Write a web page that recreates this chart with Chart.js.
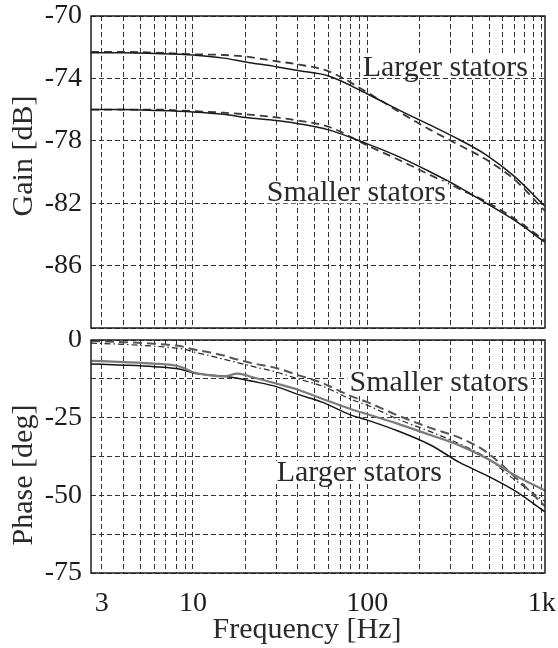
<!DOCTYPE html>
<html>
<head>
<meta charset="utf-8">
<script src="https://cdn.jsdelivr.net/npm/chart.js@4"></script>
<style>
  body { margin: 0; background: #fff; }
  #wrap { position: relative; width: 558px; height: 648px; }
  canvas { position: absolute; left: 0; }
  #gainChart { top: 0; }
  #phaseChart { top: 330px; }
</style>
</head>
<body>
<div id="wrap">
  <canvas id="gainChart" width="558" height="340" style="width:558px;height:340px"></canvas>
  <canvas id="phaseChart" width="558" height="318" style="width:558px;height:318px"></canvas>
</div>
<script>
// log grid lines for the frequency axis
const freqGrid = [3, 4, 5, 6, 7, 8, 9, 10, 20, 30, 40, 50, 60, 70, 80, 90,
  100, 200, 300, 400, 500, 600, 700, 800, 900, 1000];
const freqLabels = { 3: '3', 10: '10', 100: '100', 1000: '1k' };
const gainLabels = [-70, -74, -78, -82, -86];
const phaseLabels = [0, -25, -50, -75];

// gain curves [dB]
const gainFreq = [2.6, 4, 6, 10, 15, 20, 30, 40, 60, 100, 150, 230, 340, 480, 700, 1045];
const gainLargerSolid = [-72.35, -72.35, -72.4, -72.5, -72.7, -72.95, -73.25, -73.5, -73.85, -75.0, -76.0, -77.0, -77.95, -78.9, -80.3, -82.2];
const gainLargerDashed = [-72.3, -72.3, -72.35, -72.45, -72.5, -72.6, -72.9, -73.1, -73.55, -74.9, -76.1, -77.3, -78.3, -79.2, -80.5, -82.5];
const gainSmallerSolid = [-76.0, -76.0, -76.05, -76.15, -76.3, -76.5, -76.7, -76.9, -77.3, -78.2, -79.0, -80.0, -81.0, -82.0, -83.1, -84.5];
const gainSmallerDashed = [-76.0, -76.0, -76.0, -76.1, -76.2, -76.3, -76.5, -76.7, -77.1, -78.3, -79.2, -80.2, -81.1, -81.9, -83.0, -84.4];

// phase curves [deg]
const phaseFreq = [2.6, 4, 6, 8, 9, 10, 12, 15, 18, 22, 30, 40, 55, 80, 100, 150, 230, 340, 480, 700, 1045];
const phaseSmallerSolid = [-6.7, -7.1, -7.6, -8.3, -9.2, -10.4, -11.2, -11.7, -10.8, -12.0, -14.0, -16.0, -18.9, -22.2, -23.9, -27.0, -30.6, -34.0, -38.0, -43.5, -48.5];
const phaseLargerSolid = [-7.7, -8.1, -8.6, -9.2, -9.8, -10.6, -11.2, -11.7, -12.3, -13.3, -15.0, -17.5, -20.0, -24.1, -25.8, -29.3, -33.8, -39.5, -43.5, -48.5, -55.3];
const phaseDashed = [-0.3, -0.7, -1.2, -1.8, -2.3, -3.0, -3.8, -5.0, -6.3, -7.5, -9.0, -11.3, -13.8, -18.0, -20.0, -24.3, -28.3, -31.5, -36.0, -44.0, -53.5];
const phaseDashDot = [-1.0, -1.4, -2.0, -2.6, -3.0, -3.8, -4.8, -6.2, -7.3, -8.5, -10.3, -12.5, -14.8, -19.0, -21.0, -25.5, -29.5, -33.5, -37.8, -45.0, -52.0];

const serif = '"Liberation Serif", "Times New Roman", serif';
const ink = '#1c1c1c';

function pts(xs, ys) {
  return xs.map((x, i) => ({ x: x, y: ys[i] }));
}

function line(label, xs, ys, color, width, dash) {
  return {
    label: label,
    data: pts(xs, ys),
    borderColor: color,
    borderWidth: width,
    borderDash: dash || [],
    pointRadius: 0,
    cubicInterpolationMode: 'monotone',
    fill: false
  };
}

// no extra room for half tick labels: chart area is set by layout padding only
function noPad(s) {
  s.paddingTop = 0;
  s.paddingBottom = 0;
  s.paddingLeft = 0;
  s.paddingRight = 0;
}

// frame + free text (titles, curve labels)
function decorPlugin(texts, titles) {
  return {
    id: 'decor',
    afterDatasetsDraw(chart) {
      const ctx = chart.ctx;
      const a = chart.chartArea;
      ctx.save();
      ctx.setLineDash([]);
      ctx.strokeStyle = ink;
      ctx.lineWidth = 1.5;
      ctx.strokeRect(a.left, a.top, a.right - a.left, a.bottom - a.top);
      ctx.font = '30px ' + serif;
      ctx.textBaseline = 'middle';
      ctx.textAlign = 'left';
      texts.forEach(t => {
        const x = chart.scales.x.getPixelForValue(t.f);
        const y = chart.scales.y.getPixelForValue(t.v);
        const w = ctx.measureText(t.text).width;
        ctx.fillStyle = '#fff';
        ctx.fillRect(x - 2, y - 11, w + 4, 22);
        ctx.fillStyle = '#2a2a2a';
        ctx.fillText(t.text, x, y + 1);
      });
      titles.forEach(t => {
        ctx.save();
        ctx.translate(t.x, t.y);
        ctx.rotate(t.rot || 0);
        ctx.textAlign = 'center';
        ctx.fillStyle = '#2a2a2a';
        ctx.fillText(t.text, 0, 0);
        ctx.restore();
      });
      ctx.restore();
    }
  };
}

function xAxis(showLabels, axisHeight) {
  return {
    type: 'logarithmic',
    min: 2.6,
    max: 1045,
    afterBuildTicks: s => { s.ticks = freqGrid.map(v => ({ value: v })); },
    afterFit: s => { s.height = axisHeight; noPad(s); },
    grid: { color: '#333', lineWidth: 1, drawTicks: false },
    border: { display: false, dash: [5, 3] },
    ticks: {
      display: showLabels,
      autoSkip: false,
      maxRotation: 0,
      padding: 14,
      color: ink,
      font: { family: serif, size: 28 },
      callback: v => freqLabels[v] || ''
    }
  };
}

function yAxis(min, max, step, labels) {
  return {
    min: min,
    max: max,
    afterFit: s => { s.width = 91; noPad(s); },
    grid: { color: '#333', lineWidth: 1, drawTicks: false },
    border: { display: false, dash: [5, 3] },
    ticks: {
      stepSize: step,
      padding: 9,
      color: ink,
      font: { family: serif, size: 28 },
      callback: v => labels.includes(v) ? String(v) : ''
    }
  };
}

new Chart(document.getElementById('gainChart'), {
  type: 'line',
  data: {
    datasets: [
      line('Larger stators (solid)', gainFreq, gainLargerSolid, '#1a1a1a', 1.5),
      line('Larger stators (dashed)', gainFreq, gainLargerDashed, '#3a3a3a', 1.8, [8, 5]),
      line('Smaller stators (solid)', gainFreq, gainSmallerSolid, '#1a1a1a', 1.5),
      line('Smaller stators (dashed)', gainFreq, gainSmallerDashed, '#3a3a3a', 1.8, [8, 5])
    ]
  },
  options: {
    responsive: false,
    animation: false,
    layout: { padding: { left: 0, right: 13, top: 16, bottom: 0 } },
    plugins: { legend: { display: false }, tooltip: { enabled: false } },
    scales: {
      x: xAxis(false, 12),
      y: yAxis(-90, -70, 2, gainLabels)
    }
  },
  plugins: [decorPlugin(
    [
      { text: 'Larger stators', f: 94, v: -73.25 },
      { text: 'Smaller stators', f: 26.5, v: -81.3 }
    ],
    [{ text: 'Gain [dB]', x: 24, y: 156, rot: -Math.PI / 2 }]
  )]
});

new Chart(document.getElementById('phaseChart'), {
  type: 'line',
  data: {
    datasets: [
      line('Smaller stators (solid)', phaseFreq, phaseSmallerSolid, '#7a7a7a', 2.2),
      line('Larger stators (solid)', phaseFreq, phaseLargerSolid, '#151515', 1.5),
      line('Dashed', phaseFreq, phaseDashed, '#555', 2.0, [9, 5]),
      line('Dash-dot', phaseFreq, phaseDashDot, '#2a2a2a', 1.2, [6, 3, 1.5, 3])
    ]
  },
  options: {
    responsive: false,
    animation: false,
    layout: { padding: { left: 0, right: 13, top: 10, bottom: 0 } },
    plugins: { legend: { display: false }, tooltip: { enabled: false } },
    scales: {
      x: xAxis(true, 75),
      y: yAxis(-75, 0, 12.5, phaseLabels)
    }
  },
  plugins: [decorPlugin(
    [
      { text: 'Smaller stators', f: 79, v: -13.5 },
      { text: 'Larger stators', f: 30.2, v: -42.5 }
    ],
    [
      { text: 'Phase [deg]', x: 24, y: 145, rot: -Math.PI / 2 },
      { text: 'Frequency [Hz]', x: 307, y: 300, rot: 0 }
    ]
  )]
});
</script>
</body>
</html>
